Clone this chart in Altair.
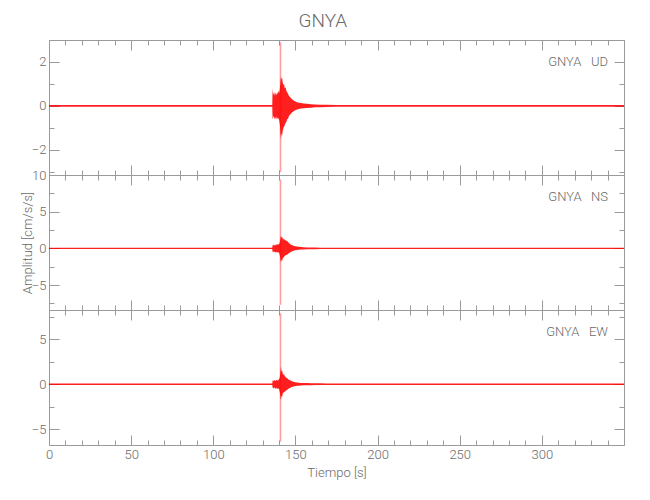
import altair as alt
import pandas as pd

# ---- data ----
station = "GNYA"
components = ["UD", "NS", "EW"]

times = [0, 135.9, 136.1, 136.4, 136.8, 137.1, 137.5, 137.9, 138.3, 138.6, 139.0, 139.4,
         139.8, 140.2, 140.6, 140.9, 141.2, 141.5, 141.9, 142.3, 142.7, 143.1, 143.5,
         144.0, 144.5, 145.0, 145.5, 146.0, 146.6, 147.2, 147.8, 148.5, 149.2, 150.0,
         151.0, 152.0, 153.5, 155.0, 157.0, 159.5, 162.0, 165.0, 169.0, 175.0, 350.0]

ud_upper = [0.04, 0.04, 0.82, 0.50, 0.62, 0.45, 0.66, 0.52, 0.58, 0.48, 0.62, 0.55,
            0.70, 0.60, 0.85, 1.10, 1.35, 1.20, 1.28, 1.05, 0.95, 1.00, 0.80,
            0.85, 0.68, 0.62, 0.55, 0.46, 0.42, 0.36, 0.32, 0.27, 0.24, 0.20,
            0.17, 0.15, 0.13, 0.11, 0.10, 0.08, 0.07, 0.06, 0.05, 0.04, 0.04]
ud_lower = [-0.04, -0.04, -0.60, -0.52, -0.45, -0.62, -0.50, -0.58, -0.47, -0.63, -0.52, -0.60,
            -0.55, -0.68, -0.90, -1.30, -1.50, -1.25, -1.35, -1.10, -1.00, -0.95, -0.88,
            -0.78, -0.72, -0.60, -0.58, -0.47, -0.40, -0.37, -0.30, -0.28, -0.22, -0.20,
            -0.16, -0.14, -0.12, -0.10, -0.09, -0.08, -0.06, -0.06, -0.05, -0.04, -0.04]

ns_upper = [0.08, 0.08, 0.45, 0.35, 0.55, 0.40, 0.50, 0.38, 0.58, 0.45, 0.52, 0.60,
            0.48, 0.65, 0.95, 1.40, 1.75, 1.45, 1.60, 1.30, 1.20, 1.35, 1.10,
            1.15, 1.00, 1.05, 0.85, 0.75, 0.60, 0.52, 0.45, 0.38, 0.32, 0.28,
            0.24, 0.21, 0.18, 0.15, 0.13, 0.12, 0.11, 0.10, 0.09, 0.08, 0.08]
ns_lower = [-0.08, -0.08, -0.45, -0.55, -0.38, -0.52, -0.42, -0.58, -0.45, -0.55, -0.48, -0.62,
            -0.50, -0.70, -1.10, -1.60, -1.95, -1.55, -1.70, -1.35, -1.25, -1.15, -1.05,
            -0.95, -0.90, -0.85, -0.78, -0.65, -0.55, -0.50, -0.42, -0.36, -0.30, -0.27,
            -0.23, -0.20, -0.17, -0.15, -0.13, -0.12, -0.11, -0.10, -0.09, -0.08, -0.08]

ew_upper = [0.09, 0.09, 0.38, 0.45, 0.32, 0.48, 0.40, 0.36, 0.50, 0.42, 0.46, 0.38,
            0.52, 0.58, 0.95, 1.50, 2.00, 1.40, 1.55, 1.15, 1.05, 1.10, 0.90,
            0.80, 0.72, 0.65, 0.58, 0.50, 0.45, 0.40, 0.34, 0.29, 0.25, 0.21,
            0.18, 0.16, 0.14, 0.13, 0.12, 0.11, 0.10, 0.10, 0.09, 0.09, 0.09]
ew_lower = [-0.09, -0.09, -0.36, -0.42, -0.48, -0.35, -0.45, -0.50, -0.40, -0.47, -0.52, -0.44,
            -0.50, -0.62, -1.05, -1.50, -1.75, -1.30, -1.40, -1.05, -0.95, -0.90, -0.85,
            -0.75, -0.68, -0.62, -0.55, -0.48, -0.42, -0.38, -0.32, -0.28, -0.24, -0.20,
            -0.18, -0.16, -0.14, -0.13, -0.12, -0.11, -0.10, -0.10, -0.09, -0.09, -0.09]

spike_time = 140.9
spike_low = [-3.0, -7.7, -6.4]
spike_high = [2.9, 9.4, 7.9]

y_domains = [[-3.14, 3.0], [-8.4, 10.0], [-6.77, 8.26]]
y_major = [[-2, 0, 2], [-5, 0, 5, 10], [-5, 0, 5]]
y_ticks = [[-3, -2, -1, 0, 1, 2, 3], [-7.5, -5, -2.5, 0, 2.5, 5, 7.5, 10],
           [-5, -2.5, 0, 2.5, 5, 7.5]]
y_major_step = [2, 5, 5]

x_domain = [0, 350]
x_labels = [0, 50, 100, 150, 200, 250, 300]
x_ticks = list(range(0, 351, 10))

FONT = "Roboto"
FW = 300
TXT = "#6a6a6a"
AX = "#9a9a9a"
W, H = 575, 135

uppers = [ud_upper, ns_upper, ew_upper]
lowers = [ud_lower, ns_lower, ew_lower]


def panel(i):
    xs = alt.Scale(domain=x_domain, nice=False, zero=False)
    ys = alt.Scale(domain=y_domains[i], nice=False, zero=False)
    df = pd.DataFrame({"t": times, "upper": uppers[i], "lower": lowers[i]})

    if i == 2:
        xaxis = alt.Axis(orient="bottom", values=x_labels, ticks=False, domain=False, grid=False,
                         labelPadding=3, labelFlush=False, title="Tiempo [s]", titlePadding=5,
                         labelFont=FONT, titleFont=FONT, labelColor=TXT, titleColor=TXT,
                         labelFontSize=13, titleFontSize=13, labelFontWeight=FW,
                         titleFontWeight=FW)
    else:
        xaxis = None
    if i == 1:
        yaxis = alt.Axis(orient="left", values=y_major[i], ticks=False, domain=False, grid=False,
                         labelPadding=3, labelFont=FONT, labelColor=TXT, labelFontSize=13,
                         labelFontWeight=FW, title="Amplitud [cm/s/s]", titleFont=FONT,
                         titleColor=TXT, titleFontSize=13, titleFontWeight=FW,
                         titleX=-15, titleY=H / 2, titleAngle=270, titleAlign="center",
                         titleBaseline="bottom")
    else:
        yaxis = alt.Axis(orient="left", values=y_major[i], ticks=False, domain=False, grid=False,
                         labelPadding=3, labelFont=FONT, labelColor=TXT, labelFontSize=13,
                         labelFontWeight=FW, title=None)

    area = alt.Chart(df).mark_area(color="#ff0000", opacity=0.88, clip=True).encode(
        x=alt.X("t:Q", scale=xs, axis=xaxis),
        y=alt.Y("upper:Q", scale=ys, axis=yaxis),
        y2="lower:Q",
    )

    sdf = pd.DataFrame({"t": [spike_time], "lo": [spike_low[i]], "hi": [spike_high[i]]})
    spike = alt.Chart(sdf).mark_rule(color="#ff0000", opacity=0.38, strokeWidth=1.6, clip=True).encode(
        x=alt.X("t:Q", scale=xs, axis=None),
        y=alt.Y("lo:Q", scale=ys, axis=None),
        y2="hi:Q",
    )

    lab = alt.Chart(pd.DataFrame({"s": [station + "\u00a0\u00a0\u00a0" + components[i]]})).mark_text(
        align="right", baseline="middle", font=FONT, fontSize=13, fontWeight=FW, color=TXT
    ).encode(text="s:N", x=alt.value(W - 16), y=alt.value(22))

    dummy = pd.DataFrame({"t": [0.0], "v": [0.0]})
    ysz = {"expr": f"abs(datum.value % {y_major_step[i]}) < 1e-9 ? -10 : -5"}
    xsz = {"expr": "abs(datum.value % 50) < 1e-9 ? -10 : -5"}

    def yt(orient):
        return alt.Chart(dummy).mark_point(opacity=0).encode(
            x=alt.X("t:Q", scale=xs, axis=None),
            y=alt.Y("v:Q", scale=ys, axis=alt.Axis(orient=orient, values=y_ticks[i], labels=False,
                                                    domain=False, grid=False, tickSize=ysz,
                                                    tickColor=AX, title=None)),
        )

    def xt(orient):
        return alt.Chart(dummy).mark_point(opacity=0).encode(
            x=alt.X("t:Q", scale=xs, axis=alt.Axis(orient=orient, values=x_ticks, labels=False,
                                                    domain=False, grid=False, tickSize=xsz,
                                                    tickColor=AX, title=None)),
            y=alt.Y("v:Q", scale=ys, axis=None),
        )

    return alt.layer(area, spike, lab, yt("left"), yt("right"), xt("top"), xt("bottom")).resolve_axis(
        x="independent", y="independent"
    ).properties(width=W, height=H)


chart = alt.vconcat(panel(0), panel(1), panel(2), spacing=0, bounds="flush").properties(
    title=alt.TitleParams(text=station, font=FONT, fontSize=19, fontWeight=FW, color=TXT,
                          anchor="middle", offset=8),
    padding={"left": 12, "top": 4, "right": 10, "bottom": 5},
).configure_view(stroke=AX, strokeWidth=1).configure_axis(tickWidth=1)

chart.save("out.html", embed_options={"renderer": "svg", "actions": False})
